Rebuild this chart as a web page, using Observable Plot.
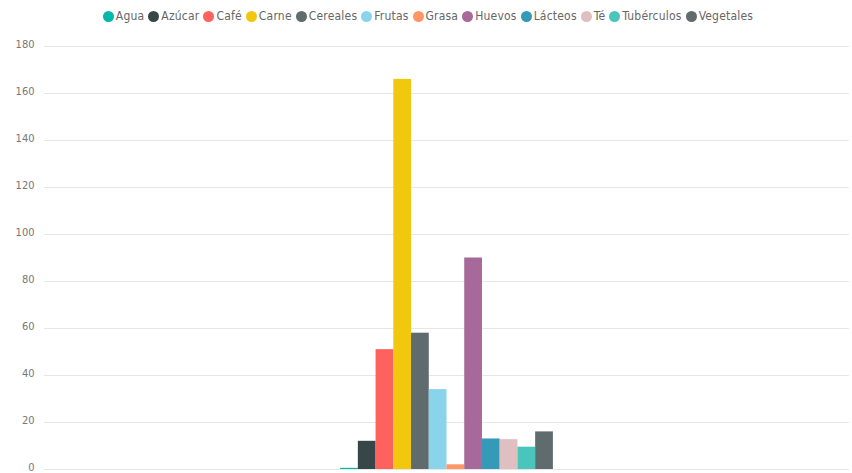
<!DOCTYPE html>
<html>
<head>
<meta charset="utf-8">
<script src="https://cdn.jsdelivr.net/npm/d3@7"></script>
<script src="https://cdn.jsdelivr.net/npm/@observablehq/plot@0.6"></script>
<style>
  body { margin: 0; background: #fff; font-family: "DejaVu Sans Condensed", "DejaVu Sans", sans-serif; }
  #legend { height: 32px; display: flex; justify-content: center; align-items: center; font-size: 12px; color: #666; padding-left: 8px; box-sizing: border-box; letter-spacing: 0.2px; }
  #legend .item { display: flex; align-items: center; margin-right: 4px; }
  #legend .sw { width: 11px; height: 11px; border-radius: 50%; margin-right: 2px; }
</style>
</head>
<body>
<div id="legend"></div>
<div id="chart"></div>
<script>
const categories = ["Agua", "Azúcar", "Café", "Carne", "Cereales", "Frutas", "Grasa", "Huevos", "Lácteos", "Té", "Tubérculos", "Vegetales"];
const values = [0.5, 12, 51, 166, 58, 34, 2, 90, 13, 12.7, 9.5, 16];
const colors = ["#01B8AA", "#374649", "#FD625E", "#F2C80F", "#5F6B6D", "#8AD4EB", "#FE9666", "#A66999", "#3599B8", "#DFBFBF", "#4AC5BB", "#5F6B6D"];
const yTicks = [0, 20, 40, 60, 80, 100, 120, 140, 160, 180];

const data = categories.map((c, i) => ({category: c, value: values[i]}));

const legend = document.getElementById("legend");
categories.forEach((c, i) => {
  const it = document.createElement("div");
  it.className = "item";
  const sw = document.createElement("span");
  sw.className = "sw";
  sw.style.background = colors[i];
  it.appendChild(sw);
  const t = document.createElement("span");
  t.textContent = c;
  it.appendChild(t);
  legend.appendChild(it);
});

const chart = Plot.plot({
  width: 852,
  height: 441,
  marginTop: 14,
  marginBottom: 4,
  marginLeft: 44,
  marginRight: 3,
  style: {fontFamily: "DejaVu Sans Condensed, DejaVu Sans, sans-serif", fontSize: "11px", color: "#777"},
  x: {domain: categories, paddingInner: 0, paddingOuter: 16.7, round: false, axis: null},
  y: {domain: [0, 180], ticks: yTicks, label: null},
  color: {domain: categories, range: colors},
  marks: [
    Plot.gridY(yTicks, {stroke: "#e6e6e6", strokeOpacity: 1, strokeWidth: 1}),
    Plot.axisY(yTicks, {tickSize: 0, tickPadding: 10, label: null, fill: "#777", dy: -2}),
    Plot.barY(data, {x: "category", y: "value", fill: "category", inset: 0})
  ]
});
document.getElementById("chart").appendChild(chart);
</script>
</body>
</html>
